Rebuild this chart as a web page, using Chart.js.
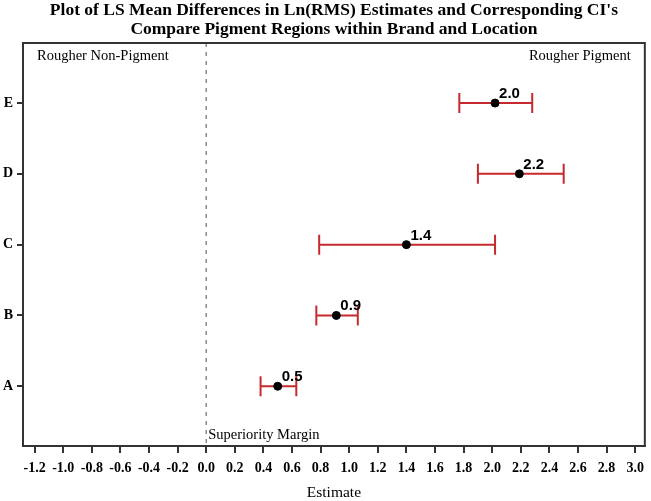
<!DOCTYPE html>
<html>
<head>
<meta charset="utf-8">
<script src="https://cdn.jsdelivr.net/npm/chart.js@4/dist/chart.umd.min.js"></script>
<style>
  html, body { margin: 0; padding: 0; background: #fff; }
  #wrap { width: 651px; height: 501px; }
</style>
</head>
<body>
<div id="wrap"><canvas id="chart" width="651" height="501"></canvas></div>
<script>
// chart data
const categories = ["A", "B", "C", "D", "E"];
const categoryPos = [1, 2, 3, 4, 5];
const estimates = [0.50, 0.91, 1.40, 2.19, 2.02];
const lowerCI = [0.38, 0.77, 0.79, 1.90, 1.77];
const upperCI = [0.63, 1.06, 2.02, 2.50, 2.28];
const pointLabels = ["0.5", "0.9", "1.4", "2.2", "2.0"];
const xTicks = [-1.2, -1.0, -0.8, -0.6, -0.4, -0.2, 0.0, 0.2, 0.4, 0.6, 0.8, 1.0,
                1.2, 1.4, 1.6, 1.8, 2.0, 2.2, 2.4, 2.6, 2.8, 3.0];
const marginValue = 0;
const titleLines = [
    "Plot of LS Mean Differences in Ln(RMS) Estimates and Corresponding CI's",
    "Compare Pigment Regions within Brand and Location"
];

const serif = "'Liberation Serif', 'Times New Roman', serif";
const frameColor = "#333333";
const ciColor = "#c62a2f";

const forestPlugin = {
    id: "forest",
    beforeDatasetsDraw(chart) {
        const ctx = chart.ctx;
        const xs = chart.scales.x;
        const ys = chart.scales.y;
        const area = chart.chartArea;

        // superiority margin line
        const mx = xs.getPixelForValue(marginValue);
        ctx.save();
        ctx.strokeStyle = "#8a8a8a";
        ctx.lineWidth = 1.5;
        ctx.setLineDash([4, 5]);
        ctx.beginPath();
        ctx.moveTo(mx, area.top);
        ctx.lineTo(mx, area.bottom);
        ctx.stroke();
        ctx.restore();

        // confidence intervals
        ctx.save();
        ctx.strokeStyle = ciColor;
        ctx.lineWidth = 2;
        for (let i = 0; i < categories.length; i++) {
            const y = ys.getPixelForValue(categoryPos[i]);
            const x1 = xs.getPixelForValue(lowerCI[i]);
            const x2 = xs.getPixelForValue(upperCI[i]);
            ctx.beginPath();
            ctx.moveTo(x1, y);
            ctx.lineTo(x2, y);
            ctx.moveTo(x1, y - 10);
            ctx.lineTo(x1, y + 10);
            ctx.moveTo(x2, y - 10);
            ctx.lineTo(x2, y + 10);
            ctx.stroke();
        }
        ctx.restore();
    },
    afterDraw(chart) {
        const ctx = chart.ctx;
        const xs = chart.scales.x;
        const ys = chart.scales.y;
        const area = chart.chartArea;
        const cx = (area.left + area.right) / 2;

        ctx.save();
        // frame
        ctx.strokeStyle = frameColor;
        ctx.lineWidth = 2;
        ctx.strokeRect(area.left, area.top, area.right - area.left, area.bottom - area.top);

        // title
        ctx.fillStyle = "#000";
        ctx.font = "bold 17.5px " + serif;
        ctx.textAlign = "center";
        ctx.textBaseline = "middle";
        ctx.fillText(titleLines[0], cx, 10);
        ctx.fillText(titleLines[1], cx, 29);

        // corner notes
        ctx.font = "14.5px " + serif;
        ctx.textAlign = "left";
        ctx.fillText("Rougher Non-Pigment", area.left + 14, 56);
        ctx.textAlign = "right";
        ctx.fillText("Rougher Pigment", area.right - 14, 56);
        ctx.textAlign = "left";
        ctx.fillText("Superiority Margin", xs.getPixelForValue(marginValue) + 2, area.bottom - 11);

        // value labels
        ctx.font = "bold 15px 'Liberation Sans', Arial, sans-serif";
        ctx.textBaseline = "alphabetic";
        for (let i = 0; i < categories.length; i++) {
            const x = xs.getPixelForValue(estimates[i]);
            const y = ys.getPixelForValue(categoryPos[i]);
            ctx.fillText(pointLabels[i], x + 4, y - 5);
        }
        ctx.restore();
    }
};

new Chart(document.getElementById("chart"), {
    type: "scatter",
    data: {
        datasets: [{
            data: estimates.map((v, i) => ({ x: v, y: categoryPos[i] })),
            backgroundColor: "#000",
            borderColor: "#000",
            pointRadius: 4,
            pointHoverRadius: 4
        }]
    },
    options: {
        responsive: false,
        animation: false,
        layout: { padding: { top: 43, right: 3, left: 0, bottom: 0 } },
        plugins: {
            legend: { display: false },
            tooltip: { enabled: false }
        },
        scales: {
            x: {
                type: "linear",
                min: -1.2815,
                max: 3.0675,
                afterBuildTicks: (axis) => { axis.ticks = xTicks.map(v => ({ value: v })); },
                afterFit: (axis) => { axis.height = 55; },
                grid: { drawOnChartArea: false, drawTicks: true, tickLength: 7, color: frameColor, lineWidth: 2 },
                border: { display: true, color: frameColor, width: 2 },
                ticks: {
                    color: "#000",
                    font: { family: serif, size: 14, weight: "bold" },
                    padding: 7,
                    maxRotation: 0,
                    autoSkip: false,
                    callback: (v) => v.toFixed(1)
                },
                title: {
                    display: true,
                    text: "Estimate",
                    color: "#000",
                    font: { family: serif, size: 15.5, lineHeight: 1 },
                    padding: { top: 0, bottom: 0 }
                }
            },
            y: {
                type: "linear",
                min: 0.156,
                max: 5.848,
                afterBuildTicks: (axis) => { axis.ticks = categoryPos.map(v => ({ value: v })); },
                afterFit: (axis) => { axis.width = 23; },
                grid: { drawOnChartArea: false, drawTicks: true, tickLength: 6, color: frameColor, lineWidth: 2 },
                border: { display: true, color: frameColor, width: 2 },
                ticks: {
                    color: "#000",
                    font: { family: serif, size: 14, weight: "bold" },
                    padding: 4,
                    callback: (v) => categories[categoryPos.indexOf(v)]
                }
            }
        }
    },
    plugins: [forestPlugin]
});
</script>
</body>
</html>
